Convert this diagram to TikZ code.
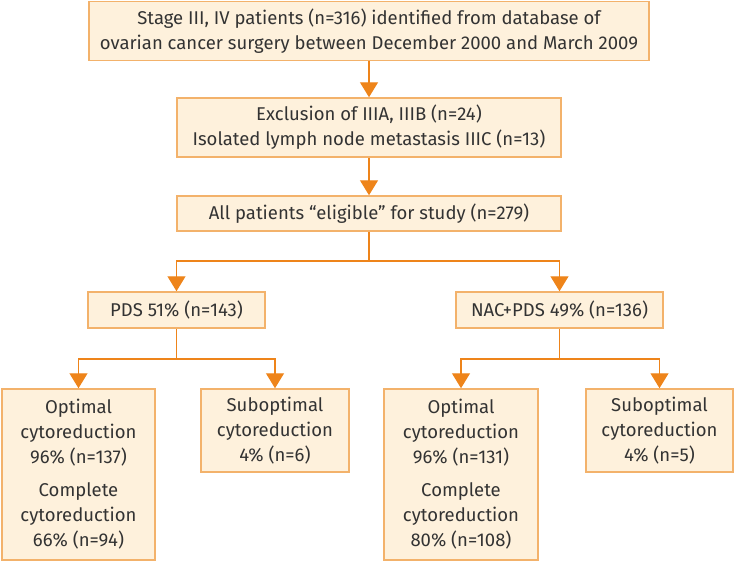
\documentclass[tikz,border=0pt]{standalone}
\usepackage{fontspec}
\setmainfont{Fira Sans}
\usetikzlibrary{arrows.meta}
\definecolor{boxFill}{HTML}{FEF1DC}
\definecolor{boxLine}{HTML}{F3B26B}
\definecolor{arrowCol}{HTML}{EE841A}
\definecolor{textCol}{HTML}{333333}
\begin{document}
\begin{tikzpicture}[x=1pt, y=-1pt,
    boxStyle/.style={draw=boxLine, fill=boxFill, line width=1.5pt, align=center, inner sep=0pt, text=textCol, font=\fontsize{18.5}{25}\selectfont},
    lineStyle/.style={draw=arrowCol, line width=1.3pt},
    arrowStyle/.style={lineStyle, -{Triangle[width=18pt, length=15pt]}}]
    \useasboundingbox (0,0) rectangle (735,562);
    \node[boxStyle, minimum width=560pt, minimum height=59pt](top) at (369, 31) {Stage III, IV patients (n=316) identified from database of\\ovarian cancer surgery between December 2000 and March 2009};
    \node[boxStyle, minimum width=384pt, minimum height=59pt](excl) at (369, 127.5) {Exclusion of IIIA, IIIB (n=24)\\Isolated lymph node metastasis IIIC (n=13)};
    \node[boxStyle, minimum width=384pt, minimum height=35pt](elig) at (369, 213.5) {All patients “eligible” for study (n=279)};
    \node[boxStyle, minimum width=177pt, minimum height=36pt](pds) at (176.5, 310) {PDS 51\% (n=143)};
    \node[boxStyle, minimum width=207pt, minimum height=36pt](nac) at (559.5, 310) {NAC+PDS 49\% (n=136)};
    \node[boxStyle, minimum width=153pt, minimum height=171pt](opt1) at (78.5, 474.5) {Optimal\\cytoreduction\\96\% (n=137)\\[8pt]Complete\\cytoreduction\\66\% (n=94)};
    \node[boxStyle, minimum width=148pt, minimum height=83pt](sub1) at (275, 430.5) {Suboptimal\\cytoreduction\\4\% (n=6)};
    \node[boxStyle, minimum width=154pt, minimum height=171pt](opt2) at (461, 474.5) {Optimal\\cytoreduction\\96\% (n=131)\\[8pt]Complete\\cytoreduction\\80\% (n=108)};
    \node[boxStyle, minimum width=147pt, minimum height=83pt](sub2) at (659.5, 430.5) {Suboptimal\\cytoreduction\\4\% (n=5)};
    \coordinate (j0) at (369, 261);
    \coordinate (j1) at (176.5, 359);
    \coordinate (j2) at (559.5, 359);

    \draw[arrowStyle] (top) -- (excl);
    \draw[arrowStyle] (excl) -- (elig);
    \draw[lineStyle] (elig) -- (j0);
    \draw[arrowStyle] (j0) -| (pds);
    \draw[arrowStyle] (j0) -| (nac);
    \draw[lineStyle] (pds) -- (j1);
    \draw[arrowStyle] (j1) -| (opt1);
    \draw[arrowStyle] (j1) -| (sub1);
    \draw[lineStyle] (nac) -- (j2);
    \draw[arrowStyle] (j2) -| (opt2);
    \draw[arrowStyle] (j2) -| (sub2);
\end{tikzpicture}
\end{document}
